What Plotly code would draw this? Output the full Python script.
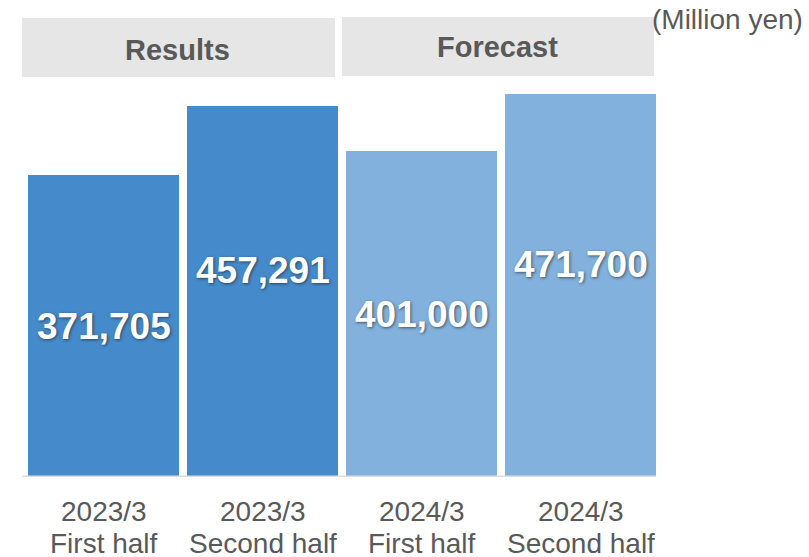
import plotly.graph_objects as go

# Net sales by half-year, results and forecast
periods = ["2023/3", "2023/3", "2024/3", "2024/3"]
halves = ["First half", "Second half", "First half", "Second half"]
sales = [371705, 457291, 401000, 471700]
groups = ["Results", "Forecast"]
unit_note = "(Million yen)"

bar_colors = ["#458ACA", "#458ACA", "#83B1DD", "#83B1DD"]
label_shift = [0, 21, 0, 21]  # vertical nudge of the value labels, px

cats = list(range(len(sales)))

fig = go.Figure(
    go.Bar(
        x=cats,
        y=sales,
        marker=dict(color=bar_colors, line=dict(width=0)),
        width=151 / 159,
        hoverinfo="skip",
    )
)

annotations = []
# value labels inside the bars
for i, v in enumerate(sales):
    annotations.append(dict(
        x=cats[i], y=v / 2, xref="x", yref="y",
        text=f"<b>{v:,}</b>", showarrow=False,
        yshift=label_shift[i],
        font=dict(family="Liberation Sans, Arial, sans-serif", size=37, color="white",
                  shadow="1px 1px 3px rgba(30,30,30,0.65)"),
    ))

# two-line category labels under the axis
label_font = dict(family="Liberation Sans, Arial, sans-serif", size=28, color="#595959")
for i in cats:
    annotations.append(dict(x=cats[i], y=-0.076, xref="x", yref="paper", text=periods[i],
                            showarrow=False, yanchor="middle", font=label_font))
    annotations.append(dict(x=cats[i], y=-0.144, xref="x", yref="paper", text=halves[i],
                            showarrow=False, yanchor="middle", font=label_font))

# group headers
header_font = dict(family="Liberation Sans, Arial, sans-serif", size=29, color="#595959")
annotations.append(dict(x=0.242, y=0.929, xref="paper", yref="paper", xanchor="center",
                        yanchor="middle", text=f"<b>{groups[0]}</b>", showarrow=False,
                        font=header_font))
annotations.append(dict(x=0.745, y=0.935, xref="paper", yref="paper", xanchor="center",
                        yanchor="middle", text=f"<b>{groups[1]}</b>", showarrow=False,
                        font=header_font))

# unit note
annotations.append(dict(x=0.985, y=0.995, xref="paper", yref="paper", xanchor="left",
                        yanchor="middle", text=unit_note, showarrow=False,
                        font=dict(family="Liberation Sans, Arial, sans-serif", size=28,
                                  color="#595959")))

shapes = [
    dict(type="rect", xref="paper", yref="paper", x0=-0.0031, x1=0.489, y0=0.8696, y1=0.998,
         fillcolor="#E6E6E6", line=dict(width=0), layer="below"),
    dict(type="rect", xref="paper", yref="paper", x0=0.5, x1=0.9906, y0=0.872, y1=1.0,
         fillcolor="#E6E6E6", line=dict(width=0), layer="below"),
    dict(type="line", xref="paper", yref="y", x0=-0.0031, x1=0.9937, y0=0, y1=0,
         line=dict(color="#DDDDDD", width=3), layer="above"),
]

fig.update_layout(
    width=809, height=557,
    margin=dict(l=24, r=149, t=17, b=80),
    paper_bgcolor="white", plot_bgcolor="white",
    showlegend=False,
    bargap=0,
    xaxis=dict(range=[-0.5, 3.5], showticklabels=False, showgrid=False, zeroline=False,
               showline=False, ticks=""),
    yaxis=dict(range=[0, 566500], showticklabels=False, showgrid=False, zeroline=False,
               showline=False, ticks=""),
    annotations=annotations,
    shapes=shapes,
)

fig.write_html("out.html")
